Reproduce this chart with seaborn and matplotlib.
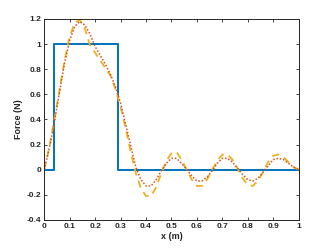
# Force vs position: box load and two series approximations
import numpy as np
import seaborn as sns
import matplotlib.pyplot as plt

# box load (step edges)
box_x = [0.0, 0.04, 0.29, 1.0]
box_y = [0.0, 1.0, 0.0, 0.0]

# approximation curves
x_pts = [0.00, 0.02, 0.04, 0.06, 0.08, 0.10, 0.12, 0.14, 0.16, 0.18,
         0.20, 0.22, 0.24, 0.26, 0.28, 0.30, 0.32, 0.34, 0.36, 0.38,
         0.40, 0.42, 0.44, 0.46, 0.48, 0.50, 0.52, 0.54, 0.56, 0.58,
         0.60, 0.62, 0.64, 0.66, 0.68, 0.70, 0.72, 0.74, 0.76, 0.78,
         0.80, 0.82, 0.84, 0.86, 0.88, 0.90, 0.92, 0.94, 0.96, 0.98, 1.00]
dotted_y = [0.00, 0.17, 0.38, 0.62, 0.85, 1.03, 1.14, 1.18, 1.15, 1.08,
            0.98, 0.91, 0.84, 0.76, 0.66, 0.53, 0.36, 0.19, 0.02, -0.08,
            -0.13, -0.13, -0.08, -0.01, 0.05, 0.09, 0.09, 0.05, 0.00, -0.05,
            -0.09, -0.09, -0.06, -0.01, 0.05, 0.09, 0.09, 0.06, 0.01, -0.04,
            -0.08, -0.09, -0.07, -0.02, 0.03, 0.08, 0.09, 0.08, 0.05, 0.02, 0.00]
dashed_y = [0.00, 0.18, 0.40, 0.63, 0.87, 1.06, 1.17, 1.19, 1.12, 0.99,
            0.93, 0.87, 0.81, 0.75, 0.64, 0.50, 0.33, 0.14, -0.03, -0.15,
            -0.21, -0.21, -0.14, -0.03, 0.07, 0.13, 0.14, 0.08, 0.00, -0.08,
            -0.13, -0.13, -0.08, 0.00, 0.07, 0.12, 0.12, 0.08, 0.01, -0.07,
            -0.12, -0.13, -0.09, -0.02, 0.06, 0.11, 0.12, 0.10, 0.06, 0.02, 0.00]

sns.set_style('ticks')
plt.rcParams['font.family'] = ['Liberation Sans', 'DejaVu Sans']
plt.rcParams['font.weight'] = 'bold'

fig = plt.figure(figsize=(3.16, 2.49), dpi=100)
ax = fig.add_axes([0.14, 0.117, 0.805, 0.807])

sns.lineplot(x=box_x, y=box_y, ax=ax, estimator=None, sort=False,
             drawstyle='steps-post', color='#0072BD', linewidth=1.4)
sns.lineplot(x=x_pts, y=dashed_y, ax=ax, estimator=None, sort=False,
             color='#EDB120', linewidth=1.3, linestyle=(0, (4, 3)))
sns.lineplot(x=x_pts, y=dotted_y, ax=ax, estimator=None, sort=False,
             color='#D95319', linewidth=1.1, linestyle=(0, (1, 1.2)))

ax.set_xlim(0, 1)
ax.set_ylim(-0.4, 1.2)
ax.set_xticks(np.arange(0, 1.01, 0.1))
ax.set_xticklabels(['0', '0.1', '0.2', '0.3', '0.4', '0.5', '0.6', '0.7',
                    '0.8', '0.9', '1'])
ax.set_yticks(np.arange(-0.4, 1.21, 0.2))
ax.set_yticklabels(['-0.4', '-0.2', '0', '0.2', '0.4', '0.6', '0.8', '1',
                    '1.2'])
ax.tick_params(direction='in', top=True, right=True, length=2.5, width=0.6,
               labelsize=6, pad=2, colors='#262626')
for s in ax.spines.values():
    s.set_visible(True)
    s.set_linewidth(0.7)
    s.set_color('#262626')

ax.set_xlabel('x (m)', fontsize=6.5, fontweight='bold', labelpad=2)
ax.set_ylabel('Force (N)', fontsize=6.5, fontweight='bold', labelpad=3)

fig.savefig('out.png', dpi=100)
